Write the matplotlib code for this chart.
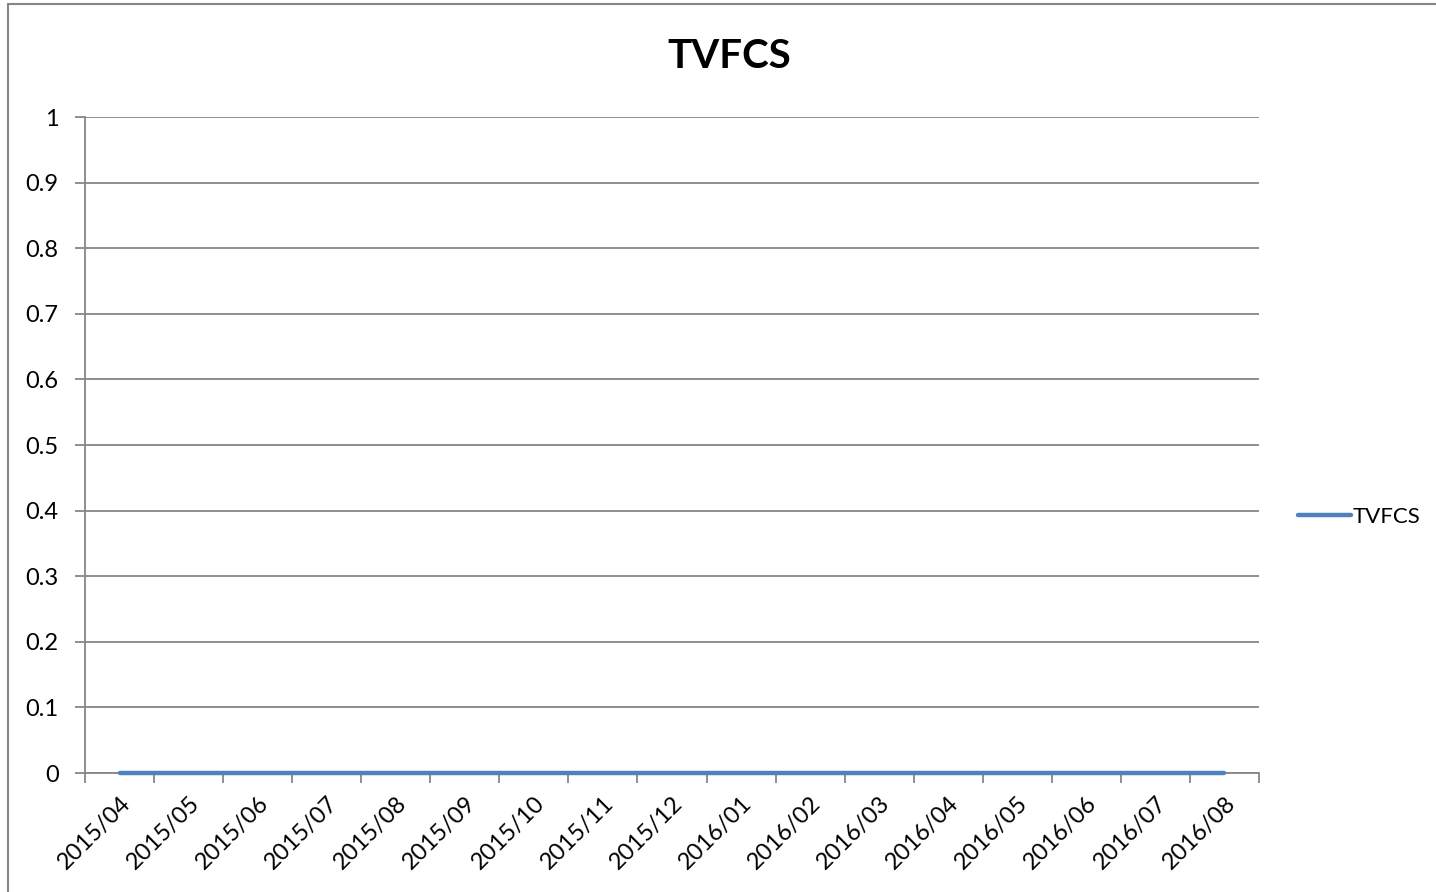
import matplotlib
matplotlib.use("Agg")
from matplotlib import pyplot as plt
from matplotlib.patches import Rectangle
import numpy as np

plt.rcParams['font.family'] = ['Lato', 'DejaVu Sans']

# data
months = ['2015/04', '2015/05', '2015/06', '2015/07', '2015/08', '2015/09',
          '2015/10', '2015/11', '2015/12', '2016/01', '2016/02', '2016/03',
          '2016/04', '2016/05', '2016/06', '2016/07', '2016/08']
tvfcs = [0, 0, 0, 0, 0, 0, 0, 0, 0, 0, 0, 0, 0, 0, 0, 0, 0]
y_ticks = [0, 0.1, 0.2, 0.3, 0.4, 0.5, 0.6, 0.7, 0.8, 0.9, 1]
y_labels = ['0', '0.1', '0.2', '0.3', '0.4', '0.5', '0.6', '0.7', '0.8', '0.9', '1']

W, H = 1436, 892
fig = plt.figure(figsize=(W / 100, H / 100), dpi=100)
ax = fig.add_axes([85 / W, 1 - 773 / H, (1259 - 85) / W, (773 - 117) / H])

x = np.arange(len(months))
line, = ax.plot(x, tvfcs, color='#4F81BD', lw=3.2, solid_capstyle='round',
                label='TVFCS', zorder=3, clip_on=False)

ax.set_xlim(-0.5, len(months) - 0.5)
ax.set_ylim(0, 1)
ax.set_yticks(y_ticks)
ax.set_yticklabels(y_labels)
ax.set_xticks(x)
ax.set_xticklabels(months, rotation=45, ha='right', rotation_mode='anchor')
ax.set_xticks(np.arange(len(months) + 1) - 0.5, minor=True)

grey = '#868686'
ax.grid(axis='y', color=grey, lw=1.3)
ax.set_axisbelow(True)
for s in ['top', 'right']:
    ax.spines[s].set_visible(False)
for s in ['left', 'bottom']:
    ax.spines[s].set_color(grey)
    ax.spines[s].set_linewidth(1.3)

ax.tick_params(axis='x', which='major', length=0, pad=14, labelsize=17)
ax.tick_params(axis='x', which='minor', length=7, color=grey, width=1.3)
ax.tick_params(axis='y', length=7, color=grey, width=1.3, pad=12, labelsize=17)

fig.text(729 / W, 1 - 57 / H, 'TVFCS', ha='center', va='center',
         fontsize=29, fontweight='bold')

fig.legend(handles=[line], loc='center left',
           bbox_to_anchor=(1278 / W, 1 - 517 / H), frameon=False,
           fontsize=16, handlelength=2.4, handletextpad=0.05)

# outer chart border
fig.patches.append(Rectangle((8 / W, -0.1), 1.2, 1.1 - 4 / H,
                             transform=fig.transFigure, fill=False,
                             edgecolor=grey, lw=1.5))

fig.savefig('out.png', dpi=100)
